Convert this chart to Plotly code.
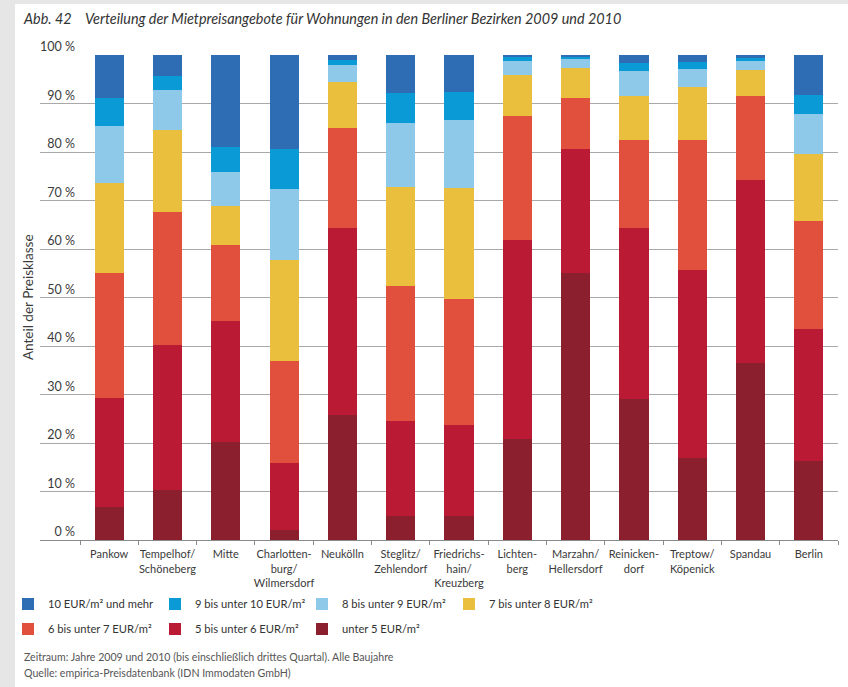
import plotly.graph_objects as go

districts = ["Pankow", "Tempelhof/<br>Schöneberg", "Mitte", "Charlotten-<br>burg/<br>Wilmersdorf",
             "Neukölln", "Steglitz/<br>Zehlendorf", "Friedrichs-<br>hain/<br>Kreuzberg", "Lichten-<br>berg",
             "Marzahn/<br>Hellersdorf", "Reinicken-<br>dorf", "Treptow/<br>Köpenick", "Spandau", "Berlin"]

# shares in percent, per price class (bottom to top of stack)
unter5   = [6.9, 10.3, 20.2, 2.0, 25.7, 5.0, 4.9, 20.8, 55.1, 29.0, 17.0, 36.4, 16.2]
b5_6     = [22.4, 30.0, 25.0, 13.8, 38.6, 19.6, 18.8, 41.1, 25.6, 35.3, 38.7, 37.9, 27.3]
b6_7     = [25.8, 27.4, 15.6, 21.2, 20.6, 27.7, 25.9, 25.5, 10.5, 18.2, 26.7, 17.3, 22.2]
b7_8     = [18.5, 16.9, 8.1, 20.8, 9.5, 20.5, 22.9, 8.4, 6.1, 9.1, 10.9, 5.4, 13.9]
b8_9     = [11.8, 8.1, 7.0, 14.6, 3.5, 13.2, 14.2, 3.0, 1.8, 5.2, 3.8, 1.8, 8.3]
b9_10    = [5.7, 2.9, 5.1, 8.3, 1.1, 6.2, 5.7, 0.7, 0.5, 1.6, 1.4, 0.6, 3.9]
ab10     = [8.9, 4.4, 19.0, 19.3, 1.0, 7.8, 7.6, 0.5, 0.4, 1.6, 1.5, 0.6, 8.2]

series = [
    ("unter 5 EUR/m²", unter5, "#8b1f2e", "legend2"),
    ("5 bis unter 6 EUR/m²", b5_6, "#bb1a35", "legend2"),
    ("6 bis unter 7 EUR/m²", b6_7, "#e0503d", "legend2"),
    ("7 bis unter 8 EUR/m²", b7_8, "#ebbf3e", "legend"),
    ("8 bis unter 9 EUR/m²", b8_9, "#8fc9ea", "legend"),
    ("9 bis unter 10 EUR/m²", b9_10, "#0a9bd6", "legend"),
    ("10 EUR/m² und mehr", ab10, "#2e6cb3", "legend"),
]

y_ticks = list(range(0, 101, 10))
y_ticktext = [f"{v} %" for v in y_ticks]

FONT = "Liberation Sans Narrow, Lato, sans-serif"

fig = go.Figure()
idx = list(range(len(districts)))
for name, vals, col, lg in series:
    fig.add_trace(go.Bar(x=idx, y=vals, name=name, marker=dict(color=col, line=dict(width=0)),
                         width=0.5, legend=lg, hoverinfo="name+y"))

W, H = 848, 687
L, R, T, B = 40, 10, 55, 147
pw = W - L - R
ph = H - T - B

def px(x):
    return (x - L) / pw

def py(y):
    return (H - B - y) / ph

leg_common = dict(orientation="h", xanchor="left", yanchor="middle", traceorder="reversed",
                  font=dict(size=11.2, color="#333333"), bgcolor="rgba(0,0,0,0)",
                  entrywidth=102, entrywidthmode="pixels",
                  itemclick=False, itemdoubleclick=False)

fig.update_layout(
    width=W, height=H,
    margin=dict(l=L, r=R, t=T, b=B, autoexpand=False),
    barmode="stack",
    paper_bgcolor="white",
    plot_bgcolor="white",
    font=dict(family=FONT, size=12, color="#333333"),
    xaxis=dict(
        range=[-1.186, 12.5], tickmode="array", tickvals=idx, ticktext=districts,
        tickangle=0, ticklabelstandoff=4,
        ticks="", showgrid=False, zeroline=False, showline=True, linecolor="#8a8a8a", linewidth=1,
        tickfont=dict(size=11, color="#3a3a3a"),
        minor=dict(tickvals=[i - 0.5 for i in range(len(districts) + 1)], ticks="outside",
                   ticklen=4, tickcolor="#8a8a8a", tickwidth=1, showgrid=False),
        fixedrange=True,
    ),
    yaxis=dict(
        range=[0, 100], tickmode="array", tickvals=y_ticks, ticktext=y_ticktext,
        showgrid=True, gridcolor="#a8a8a8", gridwidth=1, zeroline=False, showline=False, ticks="",
        ticklabelposition="outside", ticklabelstandoff=-36, ticklabelshift=-8,
        tickfont=dict(size=12.5, color="#3a3a3a"),
        fixedrange=True,
    ),
    legend=dict(x=px(8), y=py(604), **leg_common),
    legend2=dict(x=px(8), y=py(629), **leg_common),
    showlegend=True,
)

# page border (grey frame of the scanned figure)
fig.add_shape(type="rect", xref="paper", yref="paper", x0=px(0), x1=px(15), y0=py(H + 5), y1=py(-5),
              fillcolor="#e6e6e6", line=dict(width=0), layer="below")
fig.add_shape(type="rect", xref="paper", yref="paper", x0=px(0), x1=px(W + 5), y0=py(4), y1=py(-5),
              fillcolor="#e6e6e6", line=dict(width=0), layer="below")

ann = [
    dict(text="<i>Abb. 42</i>", x=px(21), y=py(18), size=14.4, color="#333333"),
    dict(text="<i>Verteilung der Mietpreisangebote für Wohnungen in den Berliner Bezirken 2009 und 2010</i>",
         x=px(83), y=py(18), size=14.4, color="#333333"),
    dict(text="Zeitraum: Jahre 2009 und 2010 (bis einschließlich drittes Quartal). Alle Baujahre",
         x=px(22), y=py(657), size=10.6, color="#555555"),
    dict(text="Quelle: empirica-Preisdatenbank (IDN Immodaten GmbH)",
         x=px(22), y=py(673), size=10.6, color="#555555"),
]
for a in ann:
    fig.add_annotation(text=a["text"], xref="paper", yref="paper", x=a["x"], y=a["y"],
                       xanchor="left", yanchor="middle", showarrow=False,
                       font=dict(size=a["size"], color=a["color"], family=FONT))

fig.add_annotation(text="Anteil der Preisklasse", xref="paper", yref="paper", x=px(28), y=py(297),
                   xanchor="center", yanchor="middle", textangle=-90, showarrow=False,
                   font=dict(size=13.5, color="#3a3a3a", family=FONT))

fig.write_html("out.html")
